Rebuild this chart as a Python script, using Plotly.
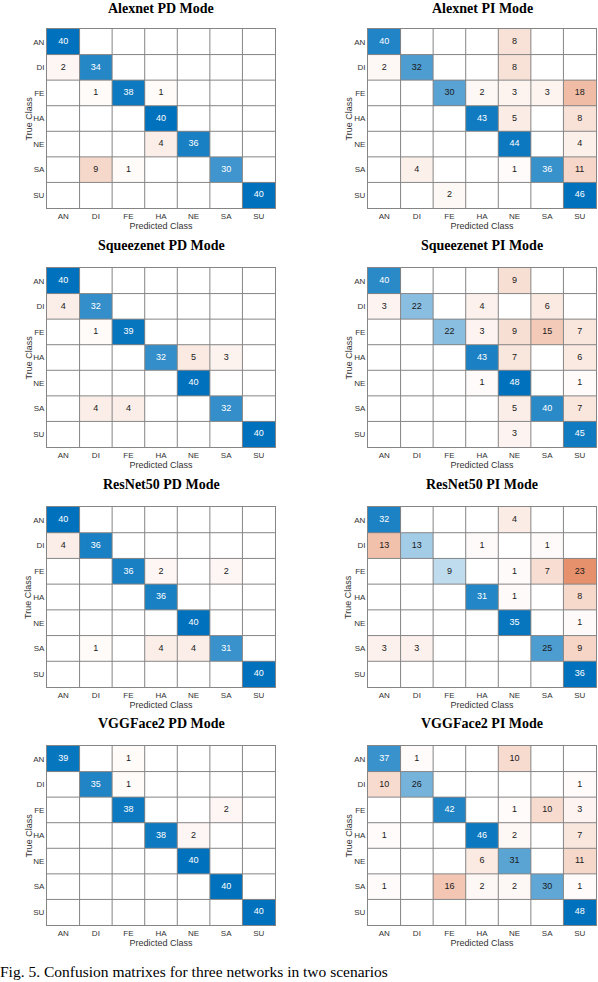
import plotly.graph_objects as go

W, H = 598, 982

classes = ["AN", "DI", "FE", "HA", "NE", "SA", "SU"]

titles = [
    "Alexnet PD Mode", "Alexnet PI Mode",
    "Squeezenet PD Mode", "Squeezenet PI Mode",
    "ResNet50 PD Mode", "ResNet50 PI Mode",
    "VGGFace2 PD Mode", "VGGFace2 PI Mode",
]

alexnet_pd = [
    [40, 0, 0, 0, 0, 0, 0],
    [2, 34, 0, 0, 0, 0, 0],
    [0, 1, 38, 1, 0, 0, 0],
    [0, 0, 0, 40, 0, 0, 0],
    [0, 0, 0, 4, 36, 0, 0],
    [0, 9, 1, 0, 0, 30, 0],
    [0, 0, 0, 0, 0, 0, 40],
]
alexnet_pi = [
    [40, 0, 0, 0, 8, 0, 0],
    [2, 32, 0, 0, 8, 0, 0],
    [0, 0, 30, 2, 3, 3, 18],
    [0, 0, 0, 43, 5, 0, 8],
    [0, 0, 0, 0, 44, 0, 4],
    [0, 4, 0, 0, 1, 36, 11],
    [0, 0, 2, 0, 0, 0, 46],
]
squeezenet_pd = [
    [40, 0, 0, 0, 0, 0, 0],
    [4, 32, 0, 0, 0, 0, 0],
    [0, 1, 39, 0, 0, 0, 0],
    [0, 0, 0, 32, 5, 3, 0],
    [0, 0, 0, 0, 40, 0, 0],
    [0, 4, 4, 0, 0, 32, 0],
    [0, 0, 0, 0, 0, 0, 40],
]
squeezenet_pi = [
    [40, 0, 0, 0, 9, 0, 0],
    [3, 22, 0, 4, 0, 6, 0],
    [0, 0, 22, 3, 9, 15, 7],
    [0, 0, 0, 43, 7, 0, 6],
    [0, 0, 0, 1, 48, 0, 1],
    [0, 0, 0, 0, 5, 40, 7],
    [0, 0, 0, 0, 3, 0, 45],
]
resnet50_pd = [
    [40, 0, 0, 0, 0, 0, 0],
    [4, 36, 0, 0, 0, 0, 0],
    [0, 0, 36, 2, 0, 2, 0],
    [0, 0, 0, 36, 0, 0, 0],
    [0, 0, 0, 0, 40, 0, 0],
    [0, 1, 0, 4, 4, 31, 0],
    [0, 0, 0, 0, 0, 0, 40],
]
resnet50_pi = [
    [32, 0, 0, 0, 4, 0, 0],
    [13, 13, 0, 1, 0, 1, 0],
    [0, 0, 9, 0, 1, 7, 23],
    [0, 0, 0, 31, 1, 0, 8],
    [0, 0, 0, 0, 35, 0, 1],
    [3, 3, 0, 0, 0, 25, 9],
    [0, 0, 0, 0, 0, 0, 36],
]
vggface2_pd = [
    [39, 0, 1, 0, 0, 0, 0],
    [0, 35, 1, 0, 0, 0, 0],
    [0, 0, 38, 0, 0, 2, 0],
    [0, 0, 0, 38, 2, 0, 0],
    [0, 0, 0, 0, 40, 0, 0],
    [0, 0, 0, 0, 0, 40, 0],
    [0, 0, 0, 0, 0, 0, 40],
]
vggface2_pi = [
    [37, 1, 0, 0, 10, 0, 0],
    [10, 26, 0, 0, 0, 0, 1],
    [0, 0, 42, 0, 1, 10, 3],
    [1, 0, 0, 46, 2, 0, 7],
    [0, 0, 0, 6, 31, 0, 11],
    [1, 0, 16, 2, 2, 30, 1],
    [0, 0, 0, 0, 0, 0, 48],
]

matrices = [alexnet_pd, alexnet_pi, squeezenet_pd, squeezenet_pi,
            resnet50_pd, resnet50_pi, vggface2_pd, vggface2_pi]

caption = "Fig. 5. Confusion matrixes for three networks in two scenarios"

# layout geometry (pixels)
col_x = [(47, 275), (368, 596)]
row_y = [(29, 208), (268, 447), (507, 687), (746, 925)]
title_y = [8, 245, 484, 723]
ytitle_x = [28, 348]

DIAG = "#0072BD"
OFF = "#D95319"
GRID = "#858585"
SANS = "Liberation Sans, Arial, sans-serif"
SERIF = "Liberation Serif, Times New Roman, serif"

fig = go.Figure()
annotations = []
shapes = []
n = len(classes)

for k, M in enumerate(matrices):
    r, c = divmod(k, 2)
    xs = "" if k == 0 else str(k + 1)
    xref, yref = "x" + xs, "y" + xs
    zmax = max(max(row) for row in M)
    zd = [[M[i][j] if (i == j and M[i][j] > 0) else None for j in range(n)] for i in range(n)]
    zo = [[M[i][j] if (i != j and M[i][j] > 0) else None for j in range(n)] for i in range(n)]
    for z, col in ((zd, DIAG), (zo, OFF)):
        fig.add_trace(go.Heatmap(
            z=z, x=list(range(n)), y=list(range(n)),
            colorscale=[[0, "#ffffff"], [1, col]], zmin=0, zmax=zmax,
            showscale=False, hoverinfo="skip", xaxis=xref, yaxis=yref,
        ))
    tx, ty, tt, tc = [], [], [], []
    for i in range(n):
        for j in range(n):
            v = M[i][j]
            if v > 0:
                tx.append(j); ty.append(i); tt.append(str(v))
                tc.append("#ffffff" if (i == j and v / zmax > 0.7) else "#1a1a1a")
    fig.add_trace(go.Scatter(
        x=tx, y=ty, text=tt, mode="text",
        textfont=dict(family=SANS, size=9, color=tc),
        showlegend=False, hoverinfo="skip", xaxis=xref, yaxis=yref,
    ))
    x0, x1 = col_x[c]
    y0, y1 = row_y[r]
    ax = dict(
        domain=[x0 / W, x1 / W], anchor=yref, range=[-0.5, n - 0.5],
        tickvals=list(range(n)), ticktext=classes, showgrid=False, zeroline=False,
        ticks="", showline=True, mirror=True, linecolor=GRID, linewidth=1,
        tickfont=dict(family=SANS, size=8, color="#333333"),
        title=dict(text="Predicted Class", font=dict(family=SANS, size=9, color="#333333"), standoff=2),
        fixedrange=True,
    )
    ay = dict(
        domain=[1 - y1 / H, 1 - y0 / H], anchor=xref, range=[n - 0.5, -0.5],
        tickvals=list(range(n)), ticktext=classes, showgrid=False, zeroline=False,
        ticks="", showline=True, mirror=True, linecolor=GRID, linewidth=1,
        tickfont=dict(family=SANS, size=8, color="#333333"),
        fixedrange=True,
    )
    fig.layout["xaxis" + xs] = ax
    fig.layout["yaxis" + xs] = ay
    for g in range(1, n):
        shapes.append(dict(type="line", xref=xref, yref=yref, x0=g - 0.5, x1=g - 0.5,
                           y0=-0.5, y1=n - 0.5, line=dict(color=GRID, width=1)))
        shapes.append(dict(type="line", xref=xref, yref=yref, y0=g - 0.5, y1=g - 0.5,
                           x0=-0.5, x1=n - 0.5, line=dict(color=GRID, width=1)))
    annotations.append(dict(text="<b>%s</b>" % titles[k], xref="paper", yref="paper",
                            x=(x0 + x1) / 2 / W, y=1 - title_y[r] / H, showarrow=False,
                            xanchor="center", yanchor="middle",
                            font=dict(family=SERIF, size=14, color="#000000")))
    annotations.append(dict(text="True Class", xref="paper", yref="paper", textangle=-90,
                            x=ytitle_x[c] / W, y=1 - (y0 + y1) / 2 / H, showarrow=False,
                            xanchor="center", yanchor="middle",
                            font=dict(family=SANS, size=9, color="#333333")))

annotations.append(dict(text=caption, xref="paper", yref="paper", x=-2 / W, y=1 - 971 / H,
                        showarrow=False, xanchor="left", yanchor="middle",
                        font=dict(family=SERIF, size=15.5, color="#000000")))

fig.update_layout(
    width=W, height=H, margin=dict(l=0, r=0, t=0, b=0),
    paper_bgcolor="#ffffff", plot_bgcolor="#ffffff",
    showlegend=False, annotations=annotations, shapes=shapes,
)

fig.write_html(
    "out.html",
    config={"displayModeBar": False},
    post_script="document.body.style.margin='0';document.body.style.overflow='hidden';",
)
